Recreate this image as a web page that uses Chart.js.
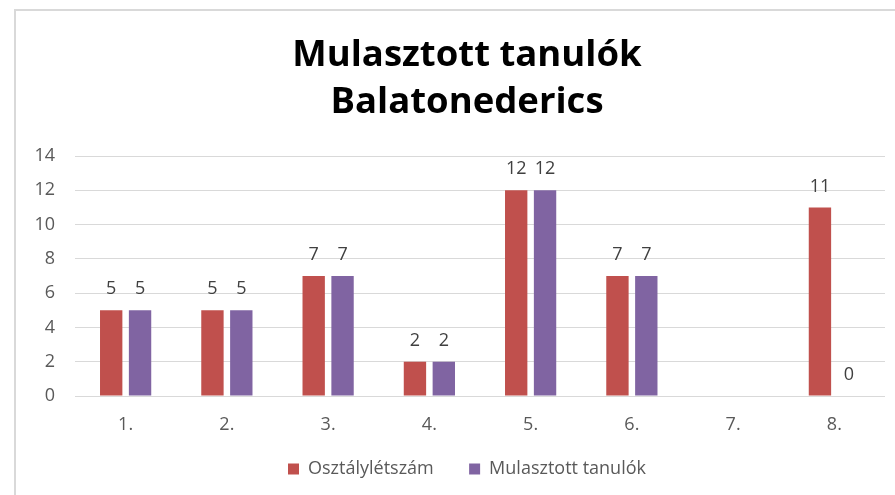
<!DOCTYPE html>
<html>
<head>
<meta charset="utf-8">
<script src="https://cdn.jsdelivr.net/npm/chart.js@4"></script>
<style>
  html, body { margin: 0; padding: 0; background: #fff; }
  #wrap { position: relative; width: 895px; height: 495px; overflow: hidden; }
  #frame { position: absolute; left: 14px; top: 9px; width: 940px; height: 500px;
           border-left: 2px solid #d9d9d9; border-top: 2px solid #d9d9d9; box-sizing: border-box; }
  canvas { position: absolute; left: 0; top: 0; }
</style>
</head>
<body>
<div id="wrap">
  <div id="frame"></div>
  <canvas id="c" width="935" height="495"></canvas>
</div>
<script>
const categories = ['1.', '2.', '3.', '4.', '5.', '6.', '7.', '8.'];
const osztalyletszam = [5, 5, 7, 2, 12, 7, null, 11];
const mulasztottTanulok = [5, 5, 7, 2, 12, 7, null, 0];
const yTicks = [0, 2, 4, 6, 8, 10, 12, 14];

const textFamily = '"Open Sans", "Noto Sans", sans-serif';
const tickFont = { family: textFamily, size: 18 };

// Value labels above each bar
const valueLabels = {
  id: 'valueLabels',
  afterDatasetsDraw(chart) {
    const ctx = chart.ctx;
    ctx.save();
    ctx.font = '18px ' + textFamily;
    ctx.fillStyle = '#404040';
    ctx.textAlign = 'center';
    ctx.textBaseline = 'middle';
    chart.data.datasets.forEach((ds, i) => {
      const meta = chart.getDatasetMeta(i);
      meta.data.forEach((el, j) => {
        const v = ds.data[j];
        if (v === null || v === undefined) return;
        ctx.fillText(String(v), el.x, el.y - 21);
      });
    });
    ctx.restore();
  }
};

new Chart(document.getElementById('c'), {
  type: 'bar',
  data: {
    labels: categories,
    datasets: [
      { label: 'Osztálylétszám', data: osztalyletszam, backgroundColor: '#C0504D',
        barPercentage: 0.775, categoryPercentage: 0.57 },
      { label: 'Mulasztott tanulók', data: mulasztottTanulok, backgroundColor: '#8064A2',
        barPercentage: 0.775, categoryPercentage: 0.57 }
    ]
  },
  options: {
    responsive: false,
    animation: false,
    layout: { padding: { left: 15, right: 16, top: 0, bottom: 7 } },
    plugins: {
      title: {
        display: true,
        text: ['Mulasztott tanulók', 'Balatonederics'],
        color: '#000',
        font: { family: textFamily, size: 36.5, weight: 'bold', lineHeight: 1.288 },
        padding: { top: 32, bottom: 30 }
      },
      legend: {
        position: 'bottom',
        labels: {
          color: '#595959',
          font: tickFont,
          boxWidth: 11,
          boxHeight: 11,
          padding: 26,
          generateLabels(chart) {
            const items = Chart.defaults.plugins.legend.labels.generateLabels(chart);
            // a little extra room between the two entries
            items[0].text += '  ';
            return items;
          }
        }
      },
      tooltip: { enabled: false }
    },
    scales: {
      x: {
        afterFit(scale) { scale.height = 38; },
        grid: { display: false, drawTicks: false },
        border: { display: false },
        ticks: { color: '#595959', font: { family: textFamily, size: 18, lineHeight: 1 }, padding: 20 }
      },
      y: {
        min: 0,
        max: 14,
        afterBuildTicks(scale) { scale.ticks = yTicks.map(v => ({ value: v })); },
        afterFit(scale) { scale.width = 60; },
        grid: { color: '#d9d9d9', lineWidth: 1, drawTicks: false },
        border: { display: false },
        ticks: { color: '#595959', font: tickFont, padding: 20 }
      },
      // empty right-hand margin so the plot ends short of the frame's centre line
      yRight: {
        position: 'right',
        afterFit(scale) { scale.width = 34; },
        grid: { display: false, drawTicks: false },
        border: { display: false },
        ticks: { display: false }
      }
    }
  },
  plugins: [valueLabels]
});
</script>
</body>
</html>
